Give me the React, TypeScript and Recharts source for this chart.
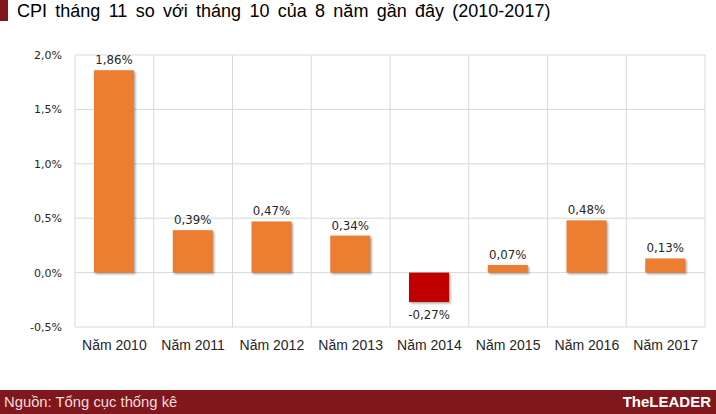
import { BarChart, Bar, XAxis, YAxis, CartesianGrid, Cell, LabelList } from 'recharts';

const years = ['Năm 2010', 'Năm 2011', 'Năm 2012', 'Năm 2013', 'Năm 2014', 'Năm 2015', 'Năm 2016', 'Năm 2017'];
const cpiChange = [1.86, 0.39, 0.47, 0.34, -0.27, 0.07, 0.48, 0.13];
const yTicks = [-0.5, 0, 0.5, 1, 1.5, 2];

const ORANGE = '#ed7d31';
const RED = '#c00000';
const BRAND = '#7f171c';

const data = years.map((year, i) => ({ year, value: cpiChange[i] }));

const fmt = (v: number, digits: number) => v.toFixed(digits).replace('.', ',') + '%';

// bar with a soft shadow like the excel original
function ShadowBar(props: any) {
  const { x, y, width, height, fill } = props;
  const top = Math.min(y, y + height);
  const h = Math.abs(height);
  return (
    <g>
      <rect x={x + 1.5} y={top + 1.5} width={width} height={h} fill="#000" opacity={0.35} filter="url(#barShadow)" />
      <rect x={x} y={top} width={width} height={h} fill={fill} />
    </g>
  );
}

function ValueLabel(props: any) {
  const { x, y, width, height, value } = props;
  const top = Math.min(y, y + height);
  const bottom = Math.max(y, y + height);
  const ty = value >= 0 ? top - 6 : bottom + 17;
  return (
    <text x={x + width / 2} y={ty} textAnchor="middle" fontSize={11.8} fontFamily="DejaVu Sans" fill="#262626">
      {fmt(value, 2)}
    </text>
  );
}

export default function App() {
  return (
    <div style={{ position: 'fixed', left: 0, top: 0, width: 716, height: 414, background: '#fff', overflow: 'hidden' }}>
      <div style={{ position: 'absolute', left: 0, top: 0, width: 8, height: 21, background: BRAND }} />
      <div
        style={{
          position: 'absolute',
          left: 17,
          top: 1,
          fontFamily: '"Liberation Sans", Arial, sans-serif',
          fontSize: 18,
          color: '#000',
          whiteSpace: 'nowrap',
          wordSpacing: 3.3,
        }}
      >
        CPI tháng 11 so với tháng 10 của 8 năm gần đây (2010-2017)
      </div>

      <div style={{ position: 'absolute', left: 0, top: 0 }}>
        <BarChart width={716} height={390} data={data} margin={{ top: 55, right: 11, bottom: 33, left: 0 }}>
          <defs>
            <filter id="barShadow" x="-20%" y="-20%" width="140%" height="140%">
              <feGaussianBlur stdDeviation="1.2" />
            </filter>
          </defs>
          <CartesianGrid
            stroke="#d9d9d9"
            strokeWidth={1}
            verticalCoordinatesGenerator={({ offset }: any) =>
              years.map((_, i) => offset.left + (i * offset.width) / years.length).concat(offset.left + offset.width)
            }
          />
          <XAxis
            dataKey="year"
            axisLine={false}
            tickLine={false}
            tickSize={0}
            tickMargin={13}
            interval={0}
            height={30}
            tick={{ fontSize: 14, fontFamily: 'Liberation Sans', fill: '#262626' }}
          />
          <YAxis
            type="number"
            domain={[-0.5, 2]}
            ticks={yTicks}
            width={75}
            axisLine={false}
            tickLine={false}
            tickSize={0}
            tickMargin={13}
            tickFormatter={(v: number) => fmt(v, 1)}
            tick={{ fontSize: 11, fontFamily: 'DejaVu Sans', fill: '#262626' }}
          />
          <Bar dataKey="value" barSize={40} isAnimationActive={false} shape={<ShadowBar />}>
            {data.map((d, i) => (
              <Cell key={`cell-${i}`} fill={d.value < 0 ? RED : ORANGE} />
            ))}
            <LabelList dataKey="value" content={<ValueLabel />} />
          </Bar>
        </BarChart>
      </div>

      <div
        style={{
          position: 'absolute',
          left: 0,
          top: 390,
          width: 716,
          height: 24,
          background: BRAND,
        }}
      >
        <span
          style={{
            position: 'absolute',
            left: 4,
            top: 4,
            fontFamily: '"Liberation Sans", sans-serif',
            fontSize: 14.8,
            color: '#f2dede',
          }}
        >
          Nguồn: Tổng cục thống kê
        </span>
        <span
          style={{
            position: 'absolute',
            right: 5,
            top: 3,
            fontFamily: '"Liberation Sans", sans-serif',
            fontWeight: 'bold',
            fontSize: 15,
            color: '#fff',
          }}
        >
          TheLEADER
        </span>
      </div>
    </div>
  );
}
